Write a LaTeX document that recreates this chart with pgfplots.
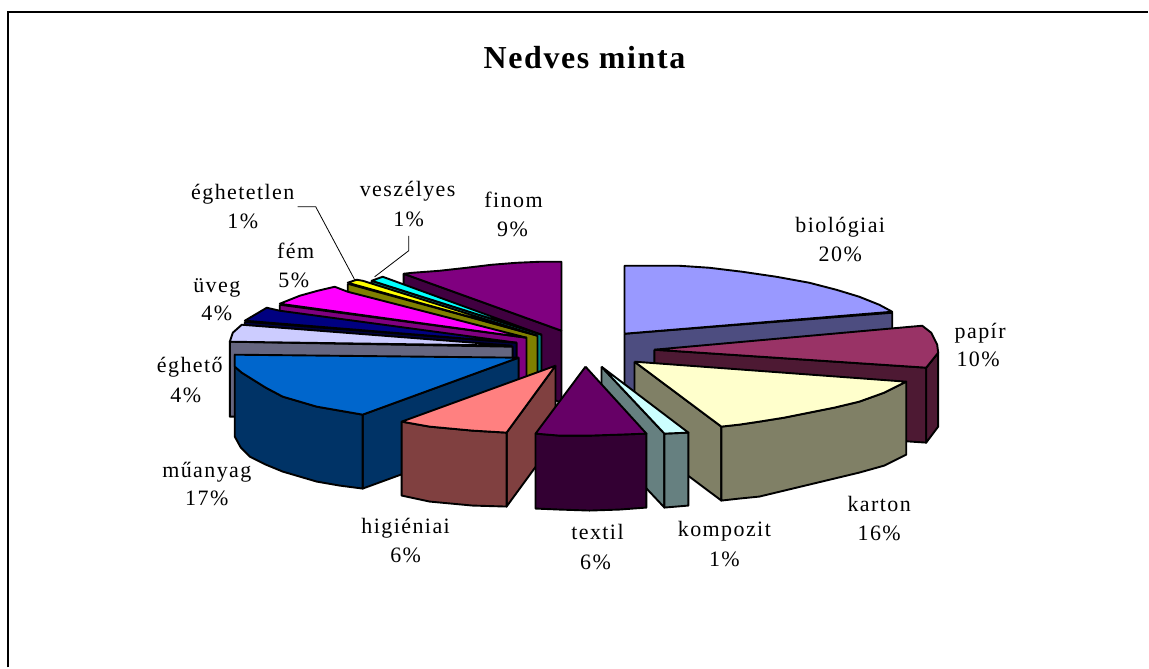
\documentclass[border=0pt]{standalone}
\usepackage{pgfplots}
\pgfplotsset{compat=1.18}
\usepackage{fontspec}
\setmainfont{Liberation Serif}
\newfontfamily\lf[LetterSpace=6.5]{Liberation Serif}
\newfontfamily\tf[LetterSpace=5]{Liberation Serif}
\definecolor{bioT}{HTML}{9999FF}\definecolor{bioW}{HTML}{4D4D80}
\definecolor{papT}{HTML}{993366}\definecolor{papW}{HTML}{4D1933}
\definecolor{karT}{HTML}{FFFFCC}\definecolor{karW}{HTML}{808066}
\definecolor{komT}{HTML}{CCFFFF}\definecolor{komW}{HTML}{668080}
\definecolor{texT}{HTML}{660066}\definecolor{texW}{HTML}{330033}
\definecolor{higT}{HTML}{FF8080}\definecolor{higW}{HTML}{804040}
\definecolor{muaT}{HTML}{0066CC}\definecolor{muaW}{HTML}{003366}
\definecolor{egoT}{HTML}{CCCCFF}\definecolor{egoW}{HTML}{666680}
\definecolor{uveT}{HTML}{000080}\definecolor{uveW}{HTML}{000040}
\definecolor{femT}{HTML}{FF00FF}\definecolor{femW}{HTML}{800080}
\definecolor{egtT}{HTML}{FFFF00}\definecolor{egtW}{HTML}{808000}
\definecolor{vesT}{HTML}{00FFFF}\definecolor{vesW}{HTML}{008080}
\definecolor{finT}{HTML}{800080}\definecolor{finW}{HTML}{400040}
\newcommand{\slc}[2]{\addplot[fill=#1,draw=black,line width=1.9pt,line join=round,mark=none,forget plot] coordinates {#2};}
\newcommand{\lab}[3]{\node[anchor=base,inner sep=0pt,font=\fontsize{22}{22}\lf] at (axis cs:#1,#2) {#3};}
\begin{document}
\begin{tikzpicture}
\begin{axis}[hide axis,scale only axis,width=1149pt,height=668pt,xmin=0,xmax=1149,ymin=0,ymax=668,y dir=reverse,clip=false]
% page extent
\addplot[draw=none,mark=none,forget plot] coordinates {(0,0)(1149,668)};
% frame
\addplot[draw=black,line width=2pt,mark=none,forget plot] coordinates {(8,668)(8,12)(1149,12)};
% biologiai wall + finom wall (back)
\slc{bioW}{(625,334)(893,313)(893,387)(625,408)(625,334)}
\slc{bioT}{(625,334)(625,266)(653,266)(680,266)(710,268)(743,272)(777,277)(810,283)(837,290)(860,297)(880,305)(893,312)(625,334)}
\slc{finW}{(404,274)(562,331)(562,403)(404,345)(404,274)}
\slc{finT}{(562,331)(562,262)(540,262)(517,263)(492,265)(467,268)(440,271)(413,273)(404,274)(562,331)}
% veszelyes
\slc{vesW}{(372,281)(542,335)(542,405)(372,351)(372,281)}
\slc{vesT}{(542,335)(372,281)(383,277)(542,335)}
% eghetetlen
\slc{egtW}{(348,284)(538,336)(538,406)(348,354)(348,284)}
\slc{egtT}{(538,336)(348,283)(357,280)(363,281)(538,336)}
% fem
\slc{femW}{(280,305)(527,338)(527,408)(280,375)(280,305)}
\slc{femT}{(527,338)(280,304)(300,296)(318,291)(335,287)(348,292)(527,338)}
% uveg
\slc{uveW}{(245,322)(517,343)(517,413)(245,392)(245,322)}
\slc{uveT}{(517,343)(245,321)(267,308)(280,311)(517,343)}
% egheto
\slc{egoW}{(230,342)(513,347)(513,417)(230,417)(230,342)}
\slc{egoT}{(513,346)(230,342)(233,333)(242,325)(513,346)}
% muanyag
\slc{muaW}{(363,415)(519,358)(519,432)(363,489)(363,415)}
\slc{muaW}{(235,355)(235,437)(241,448)(250,457)(266,465)(283,472)(300,477)(317,482)(340,486)(363,489)(363,415)(340,411)(317,407)(300,402)(283,397)(266,388)(250,378)(242,373)(235,367)(235,355)}
\slc{muaT}{(519,358)(235,355)(235,367)(242,373)(250,378)(266,388)(283,397)(300,402)(317,407)(340,411)(363,415)(519,358)}
% papir
\slc{papW}{(655,350)(927,368)(927,443)(655,425)(655,350)}
\slc{papW}{(927,368)(939,353)(939,427)(927,443)(927,368)}
\slc{papT}{(655,350)(923,326)(932,333)(938,345)(939,353)(927,368)(655,350)}
% karton
\slc{karW}{(635,362)(722,427)(722,501)(635,436)(635,362)}
\slc{karW}{(722,427)(740,425)(760,422)(785,418)(810,413)(835,408)(860,402)(885,393)(907,382)(907,455)(885,466)(860,473)(835,479)(810,485)(785,491)(760,497)(740,499)(722,501)(722,427)}
\slc{karT}{(635,362)(907,382)(885,393)(860,402)(835,408)(810,413)(785,418)(760,422)(740,425)(722,427)(635,362)}
% higieniai
\slc{higW}{(507,433)(556,366)(556,440)(507,507)(507,433)}
\slc{higW}{(402,422)(430,427)(473,431)(507,433)(507,507)(473,506)(430,502)(402,496)(402,422)}
\slc{higT}{(556,366)(402,422)(430,427)(473,431)(507,433)(556,366)}
% kompozit
\slc{komW}{(602,367)(665,434)(665,508)(602,441)(602,367)}
\slc{komW}{(665,434)(689,433)(689,506)(665,508)(665,434)}
\slc{komT}{(602,367)(689,433)(665,434)(602,367)}
% textil
\slc{texW}{(536,434)(560,436)(590,436)(620,435)(647,434)(647,508)(620,510)(590,511)(560,510)(536,509)(536,434)}
\slc{texT}{(586,367)(536,434)(560,436)(590,436)(620,435)(647,434)(586,367)}
% leaders
\addplot[draw=black,line width=.8pt,mark=none,forget plot] coordinates {(298,207)(316,207)(355,280)};
\addplot[draw=black,line width=.8pt,mark=none,forget plot] coordinates {(409,236)(409,251)(375,277)};
% labels
\node[anchor=base,inner sep=0pt,font=\fontsize{32}{32}\tf\bfseries] at (axis cs:585,69) {Nedves minta};
\lab{841}{233}{biológiai}\lab{841}{262}{20\%}
\lab{981}{339}{papír}\lab{979}{367}{10\%}
\lab{880}{512}{karton}\lab{880}{541}{16\%}
\lab{725}{537}{kompozit}\lab{725}{567}{1\%}
\lab{598}{540}{textil}\lab{596}{570}{6\%}
\lab{406}{534}{higiéniai}\lab{406}{563}{6\%}
\lab{207}{478}{műanyag}\lab{207}{506}{17\%}
\lab{190}{373}{éghető}\lab{186}{403}{4\%}
\lab{217}{293}{üveg}\lab{217}{321}{4\%}
\lab{296}{259}{fém}\lab{294}{288}{5\%}
\lab{243}{200}{éghetetlen}\lab{243}{229}{1\%}
\lab{408}{197}{veszélyes}\lab{409}{227}{1\%}
\lab{514}{208}{finom}\lab{513}{237}{9\%}
\end{axis}
\end{tikzpicture}
\end{document}
